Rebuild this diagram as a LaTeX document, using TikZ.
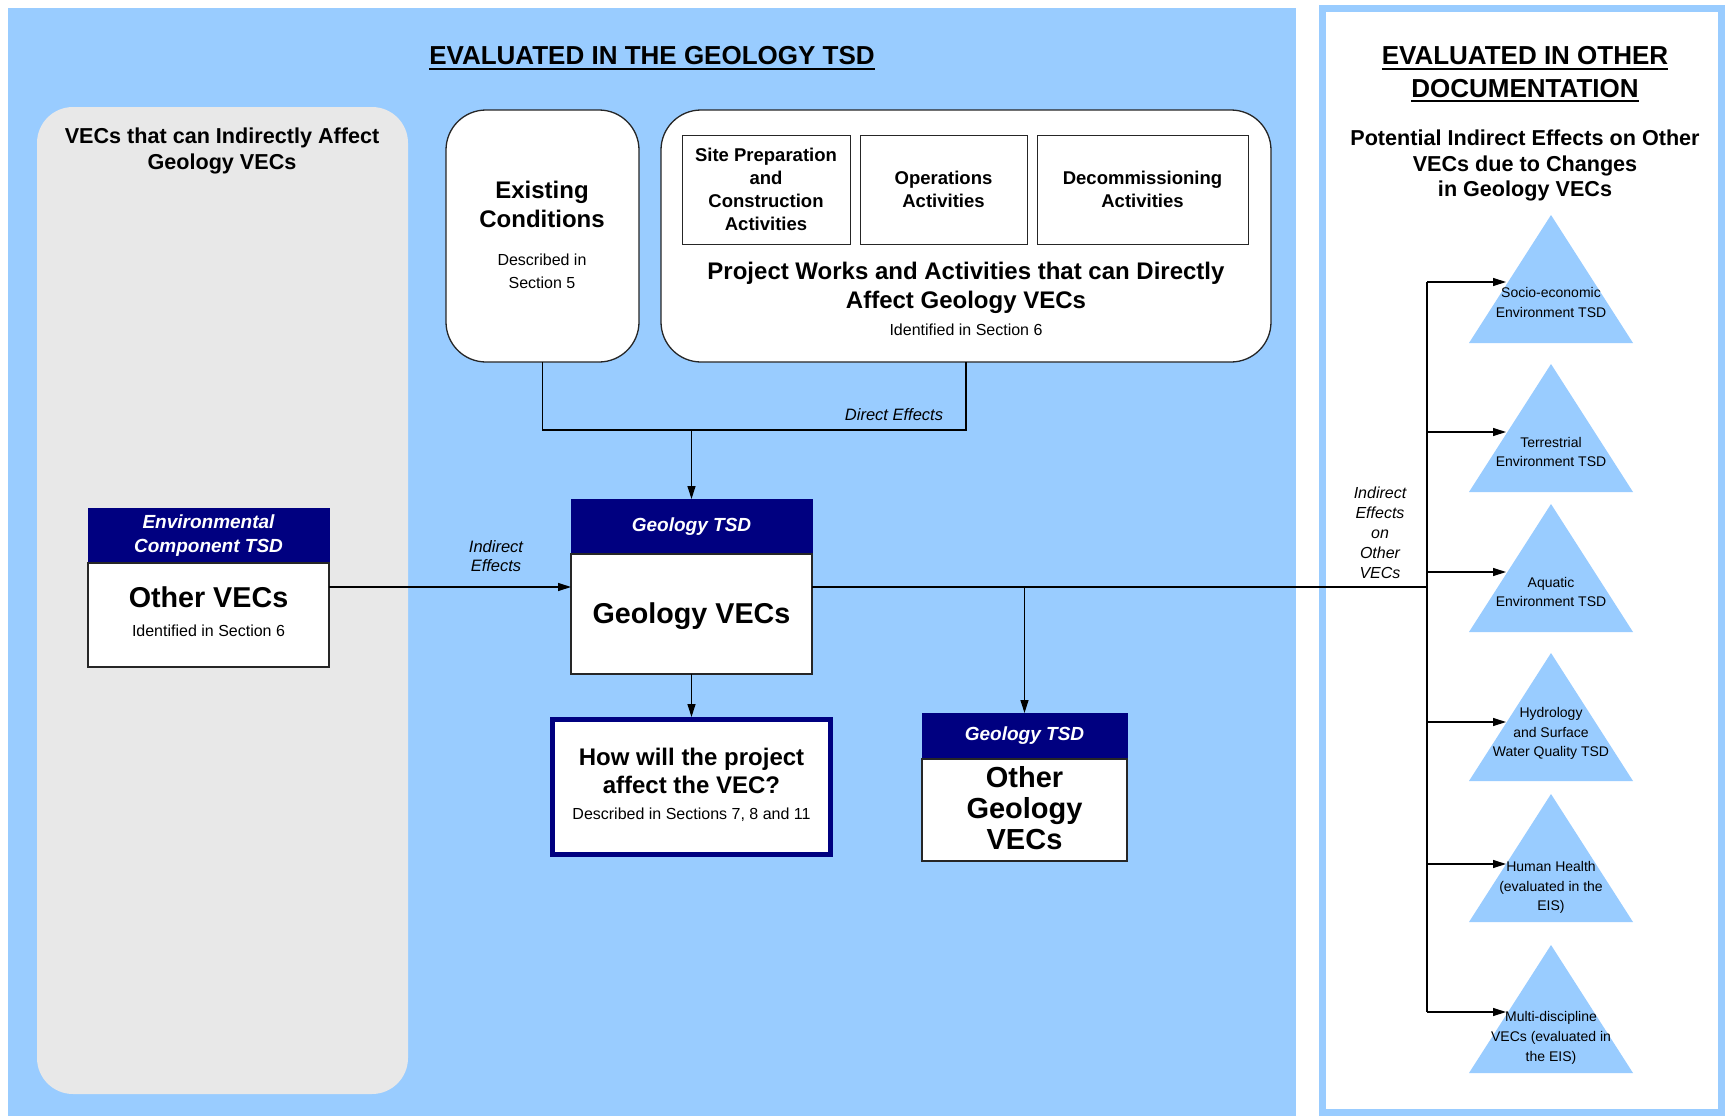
\documentclass[tikz,border=0pt]{standalone}
\usepackage{fontspec}
\setmainfont{Liberation Sans}
\usetikzlibrary{arrows.meta,calc}
\definecolor{lblue}{HTML}{99CCFF}
\definecolor{lgray}{HTML}{E8E8E8}
\definecolor{navy}{HTML}{000080}
\newcommand\myfs[2]{\fontsize{#1}{#2}\selectfont}
\begin{document}
\begin{tikzpicture}[x=1pt,y=-1pt,
  every node/.style={inner sep=0pt, outer sep=0pt},
  box/.style={draw=black!85, line width=1.3pt, fill=white, anchor=north west},
  subbox/.style={box, line width=1pt, font=\myfs{18.5}{23}\bfseries, align=center},
  hdr/.style={fill=navy, draw=navy, anchor=north west, text=white, font=\myfs{19}{24}\bfseries\itshape, align=center},
  conn/.style={line width=1.2pt, draw=black},
  arr/.style={conn, -{Triangle[length=13pt,width=8pt]}},
  ttl/.style={font=\myfs{26}{30}\bfseries, anchor=base},
  uline/.style={line width=2pt},
  tritxt/.style={font=\myfs{14}{19.8}, align=center},
  small/.style={font=\myfs{16}{20}},
  lbl/.style={font=\myfs{16.5}{20}\itshape, align=center}
]
\useasboundingbox (0,0) rectangle (1725,1116);
\fill[white] (0,0) rectangle (1725,1116);
\fill[lblue] (8,8) rectangle (1296,1116);
\draw[lblue, line width=7pt, fill=white] (1322.5,8.5) rectangle (1721.5,1112.5);

% left gray panel
\node[fill=lgray, rounded corners=36pt, minimum width=371pt, minimum height=987pt, anchor=north west] (grayp) at (37,107) {};
\node[font=\myfs{21.6}{26}\bfseries, align=center] (graytxt) at (222,151) {VECs that can Indirectly Affect\\Geology VECs};

% title
\node[ttl] (title1) at (652,65) {EVALUATED IN THE GEOLOGY TSD};
\draw[uline] ([yshift=-4pt]title1.base west) -- ([yshift=-4pt]title1.base east);

% existing conditions
\node[box, rounded corners=40pt, minimum width=193pt, minimum height=252pt] (exist) at (446,110) {};
\node[font=\myfs{24}{29}\bfseries, align=center] (extitle) at (542,204.5) {Existing\\Conditions};
\node[font=\myfs{16}{23}, align=center] (exsub) at (542,271.5) {Described in\\Section 5};

% project works
\node[box, rounded corners=40pt, minimum width=610pt, minimum height=252pt] (proj) at (661,110) {};
\node[subbox, minimum width=168pt, minimum height=109pt] (sp1) at (682,135) {Site Preparation\\and\\Construction\\Activities};
\node[subbox, minimum width=167pt, minimum height=109pt] (sp2) at (860,135) {Operations\\Activities};
\node[subbox, minimum width=211pt, minimum height=109pt] (sp3) at (1037,135) {Decommissioning\\Activities};
\node[font=\myfs{24}{29}\bfseries, align=center] (prtitle) at (966,288) {Project Works and Activities that can Directly\\Affect Geology VECs};
\node[small] (prsub) at (966,330) {Identified in Section 6};

% geology VECs
\node[hdr, minimum width=241pt, minimum height=55pt] (geohd) at (571,499) {Geology TSD};
\node[box, minimum width=241pt, minimum height=120pt] (geobody) at (571,554) {};
\node[font=\myfs{28.7}{32}\bfseries] (geotxt) at (691.5,616) {Geology VECs};

% environmental component
\node[hdr, minimum width=241pt, minimum height=55pt] (envhd) at (88,508) {Environmental\\Component TSD};
\node[box, minimum width=241pt, minimum height=104pt] (envbody) at (88,563) {};
\node[font=\myfs{28.7}{32}\bfseries] (envtxt) at (208.5,597) {Other VECs};
\node[small] (envsub) at (208.5,631) {Identified in Section 6};

% how box
\node[draw=navy, line width=5pt, fill=white, anchor=north west, minimum width=278pt, minimum height=135pt] (how) at (552.5,719.5) {};
\node[font=\myfs{24}{28}\bfseries, align=center] (howtxt) at (691.5,771) {How will the project\\affect the VEC?};
\node[small] (howsub) at (691.5,815) {Described in Sections 7, 8 and 11};

% other geology VECs
\node[hdr, minimum width=205pt, minimum height=46pt] (ogeohd) at (922,713) {Geology TSD};
\node[box, minimum width=205pt, minimum height=102pt] (ogeobody) at (922,759) {};
\node[font=\myfs{29}{31}\bfseries, align=center] (ogeotxt) at (1024.5,808) {Other\\Geology\\VECs};

% right panel titles
\node[ttl] (title2a) at (1525,65) {EVALUATED IN OTHER};
\draw[uline] ([yshift=-4pt]title2a.base west) -- ([yshift=-4pt]title2a.base east);
\node[ttl] (title2b) at (1525,97) {DOCUMENTATION};
\draw[uline] ([yshift=-4pt]title2b.base west) -- ([yshift=-4pt]title2b.base east);
\node[font=\myfs{21.6}{25.5}\bfseries, align=center] (pot) at (1525,165.5) {Potential Indirect Effects on Other\\VECs due to Changes\\in Geology VECs};

% triangles
\foreach \a in {215,364,504,653,794,945}
  \fill[lblue] (1551,\a) -- (1633,\a+128) -- (1469,\a+128) -- cycle;
\node[tritxt] (tt1) at (1551,302.5) {Socio-economic\\Environment TSD};
\node[tritxt] (tt2) at (1551,452) {Terrestrial\\Environment TSD};
\node[tritxt] (tt3) at (1551,592) {Aquatic\\Environment TSD};
\node[tritxt] (tt4) at (1551,733.5) {Hydrology\\and Surface\\Water Quality TSD};
\node[tritxt] (tt5) at (1551,887.5) {Human Health\\(evaluated in the\\EIS)};
\node[tritxt] (tt6) at (1551,1038) {Multi-discipline\\VECs (evaluated in\\the EIS)};

% labels
\node[lbl] (dirlbl) at (894,415) {Direct Effects};
\node[lbl, font=\myfs{16.5}{19.5}\itshape] (indlbl) at (496,556) {Indirect\\Effects};
\node[lbl, font=\myfs{16}{20}\itshape] (othlbl) at (1380,533) {Indirect\\Effects\\on\\Other\\VECs};

% connectors
\coordinate (jn) at (691.5,430);
\draw[conn] (exist.south) |- (jn) -| (proj.south);
\draw[arr] (jn) -- (geohd.north);
\draw[arr] ([yshift=-24pt]envbody.north east) -- ([yshift=-33pt]geobody.north west);
\draw[arr, shorten >=2.5pt] (geobody.south) -- (how.north);
\coordinate (vm) at (1427,587);
\coordinate (br) at (1024.5,587);
\draw[conn] ([yshift=-33pt]geobody.north east) -- (vm);
\draw[arr] (br) -- (ogeohd.north);
\coordinate (v1) at (1427,282);
\coordinate (v2) at (1427,432);
\coordinate (v3) at (1427,572);
\coordinate (v4) at (1427,722);
\coordinate (v5) at (1427,864);
\coordinate (v6) at (1427,1012);
\draw[conn] (v1) -- (v6);
\foreach \i/\yy in {1/282,2/432,3/572,4/722,5/864,6/1012}{
  \coordinate (e\i) at (1506,\yy);
  \draw[arr] (v\i) -- (e\i);
}
\end{tikzpicture}
\end{document}
